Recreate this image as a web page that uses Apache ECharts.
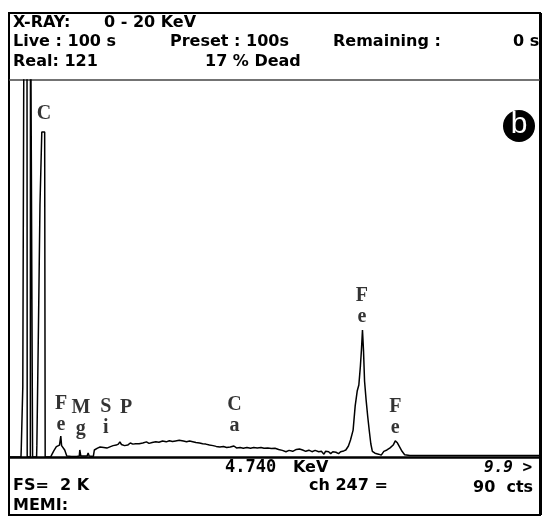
<!DOCTYPE html>
<html><head><meta charset="utf-8">
<script src="https://cdn.jsdelivr.net/npm/echarts@6/dist/echarts.min.js"></script>
<style>html,body{margin:0;padding:0;background:#fff}#c{width:544px;height:516px}</style>
</head><body><div id="c"></div>
<script>
// Spectrum: energy (keV) and counts
const spectrumKeV = [
-0.40,-0.17,-0.165,-0.14,-0.135,-0.115,-0.11,-0.055,-0.05,0.01,0.013,0.05,0.053,0.13,0.135,0.16,0.165,0.19,0.195,0.225,0.23,0.285,0.295,
0.40,0.42,0.46,0.48,0.51,0.54,0.57,0.59,0.595,0.605,0.61,0.64,0.67,0.69,0.71,0.80,0.90,0.95,0.96,0.975,0.98,1.10,1.12,1.14,1.22,1.24,
1.30,1.35,1.42,1.48,1.55,1.60,1.66,1.70,1.73,1.76,1.82,1.88,1.93,1.98,2.03,2.10,2.17,2.24,2.29,2.35,2.42,2.48,2.55,2.62,2.68,2.74,2.80,
2.87,2.90,2.95,3.01,3.07,3.13,3.19,3.26,3.32,3.38,3.45,3.52,3.58,3.65,3.72,3.78,3.85,3.92,3.97,4.04,4.10,4.17,4.24,4.30,4.37,4.44,4.50,
4.57,4.64,4.71,4.78,4.85,4.92,4.98,5.05,5.12,5.18,5.24,5.30,5.36,5.42,5.48,5.55,5.60,5.65,5.68,5.74,5.78,5.82,5.88,5.93,5.97,6.03,6.07,
6.12,6.16,6.21,6.25,6.29,6.32,6.35,6.37,6.39,6.41,6.43,6.46,6.49,6.52,6.55,6.58,6.63,6.70,6.75,6.80,6.86,6.92,6.98,7.02,7.06,7.10,7.15,
7.20,7.30,7.55,7.56,7.57,7.85,7.86,7.87,8.10,8.11,8.12,8.40,8.41,8.42,8.80,9.80
];
const spectrumCounts = [
0,0,40,40,370,370,2600,2600,0,0,2600,2600,0,0,60,60,670,670,1330,1330,1715,1715,0,
0,11,32,42,55,47,63,63,110,110,60,50,37,30,5,3,3,5,37,37,5,5,21,5,3,37,
47,53,50,47,55,60,63,68,80,66,60,63,74,68,70,70,74,80,72,76,80,78,84,80,86,82,85,
88,95,84,80,84,80,76,74,70,68,63,60,56,53,55,50,53,58,48,50,46,50,46,50,48,50,46,
48,45,46,40,35,28,35,30,40,42,37,30,36,28,35,28,30,15,30,28,18,28,25,18,28,32,37,
58,90,142,270,350,380,480,565,670,560,400,300,215,140,70,30,20,15,10,30,37,48,63,85,75,55,30,
12,8,8,18,8,8,18,8,8,16,8,8,16,8,8,8
];
// Element labels
const peakNames = ['C', 'F\ne', 'M\ng', 'S\ni', 'P', 'C\na', 'F\ne', 'F\ne'];
const peakKeV = [0.27, 0.60, 0.98, 1.46, 1.85, 3.93, 6.38, 7.02];
const peakCounts = [1810, 224, 206, 211, 259, 219, 797, 211];

const chart = echarts.init(document.getElementById('c'));
const sans = 'DejaVu Sans';
const mono = 'DejaVu Sans Mono';
function txt(x, y, t, opt) {
  return Object.assign({type: 'text', x: x, y: y, style: Object.assign({
    text: t, fill: '#000', font: 'bold 16px "' + sans + '"', textVerticalAlign: 'middle'
  }, opt || {})});
}
const headerY = [23, 42, 62];
chart.setOption({
  animation: false,
  backgroundColor: '#fff',
  grid: {left: 9, right: 4, top: 80, bottom: 59},
  xAxis: {type: 'value', min: -0.4, max: 9.8, show: false},
  yAxis: {type: 'value', min: 0, max: 1990, show: false},
  series: [
    {type: 'line', data: spectrumKeV.map((e, i) => [e, spectrumCounts[i]]), showSymbol: false,
     lineStyle: {color: '#000', width: 1.5}, clip: true, silent: true},
    {type: 'scatter', symbolSize: 0, silent: true,
     data: peakNames.map((n, i) => ({name: n, value: [peakKeV[i], peakCounts[i]]})),
     label: {show: true, position: 'inside', formatter: p => p.name, color: '#000',
             fontFamily: 'Liberation Serif', fontWeight: 'bold', fontSize: 20, lineHeight: 21}}
  ],
  graphic: [
    {type: 'rect', shape: {x: 9, y: 13, width: 531, height: 502}, style: {fill: 'none', stroke: '#000', lineWidth: 2}},
    {type: 'line', shape: {x1: 540.5, y1: 13, x2: 540.5, y2: 515}, style: {stroke: '#000', lineWidth: 3}},
    {type: 'line', shape: {x1: 9, y1: 80, x2: 540, y2: 80}, style: {stroke: '#444', lineWidth: 1.5}},
    {type: 'line', shape: {x1: 9, y1: 457.5, x2: 540, y2: 457.5}, style: {stroke: '#000', lineWidth: 2.5}},
    txt(13, headerY[0], 'X-RAY:'),
    txt(104, headerY[0], '0 - 20 KeV'),
    txt(13, headerY[1], 'Live : 100 s'),
    txt(170, headerY[1], 'Preset : 100s'),
    txt(333, headerY[1], 'Remaining :'),
    txt(513, headerY[1], '0 s'),
    txt(13, headerY[2], 'Real: 121'),
    txt(205, headerY[2], '17 % Dead'),
    {type: 'circle', shape: {cx: 519, cy: 126, r: 16}, style: {fill: '#000'}},
    {type: 'text', x: 519, y: 125, style: {text: 'b', fill: '#fff', font: '30px "Liberation Sans"', textAlign: 'center', textVerticalAlign: 'middle'}},
    txt(225, 468, '4.740', {font: 'bold 17px "' + mono + '"'}),
    txt(293, 468, 'KeV'),
    txt(484, 468, '9.9 >', {font: 'italic bold 16px "' + mono + '"'}),
    txt(13, 486, 'FS=  2 K'),
    txt(309, 486, 'ch 247 ='),
    txt(473, 488, '90  cts'),
    txt(13, 506, 'MEMI:')
  ]
});
</script></body></html>
